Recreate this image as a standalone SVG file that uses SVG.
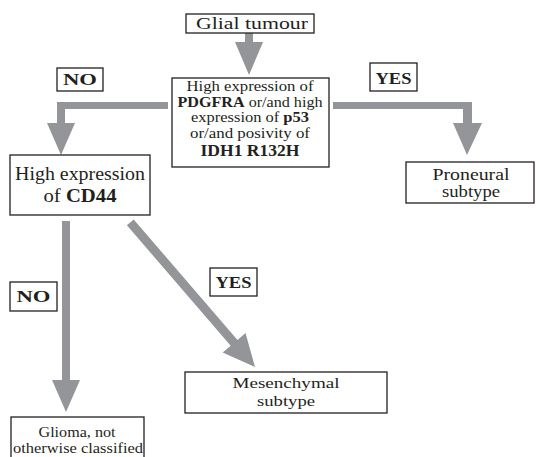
<svg xmlns="http://www.w3.org/2000/svg" width="536" height="457" viewBox="0 0 536 457">
<style>
.box{fill:#fff;stroke:#231f20;stroke-width:1.3}
.t{font-family:'Liberation Serif','Times New Roman','DejaVu Serif',serif;fill:#231f20;text-anchor:middle}
.b{font-weight:bold}
.arr{fill:#939598;stroke:none}
</style>
<rect width="536" height="457" fill="#fff"/>
<g id="connectors">
<polygon class="arr" points="245,33 253,33 253,42 263,42 249,75 235,42 245,42"/>
<polygon class="arr" points="168,102 57,102 57,123 47,123 61,155 75,123 65,123 65,109 168,109"/>
<polygon class="arr" points="333,102 472,102 472,123 482,123 467,155 453,123 463,123 463,109 333,109"/>
<polygon class="arr" points="62,221 70,221 70,380 80,380 66,412 52,380 62,380"/>
<polygon class="arr" points="133.7,219.5 237.5,339.9 245.5,333 255,367 222.7,352.6 230.7,345.7 126.9,225.3"/>
</g>
<g id="glial">
<rect class="box" x="186" y="14" width="128" height="19"/>
<text class="t" x="252" y="28.5" font-size="17.5" textLength="112" lengthAdjust="spacingAndGlyphs">Glial tumour</text>
</g>
<g id="question1">
<rect class="box" x="172" y="78" width="157" height="89"/>
<text class="t" x="250" y="91" font-size="15.5" textLength="127" lengthAdjust="spacingAndGlyphs">High expression of</text>
<text class="t" x="250" y="106.5" font-size="15.5" textLength="145" lengthAdjust="spacingAndGlyphs"><tspan class="b">PDGFRA</tspan> or/and high</text>
<text class="t" x="250" y="122" font-size="15.5" textLength="118" lengthAdjust="spacingAndGlyphs">expression of <tspan class="b">p53</tspan></text>
<text class="t" x="250" y="138" font-size="15.5" textLength="120" lengthAdjust="spacingAndGlyphs">or/and posivity of</text>
<text class="t b" x="250" y="155.5" font-size="16" textLength="99" lengthAdjust="spacingAndGlyphs">IDH1 R132H</text>
</g>
<g id="no1">
<rect class="box" x="57" y="68" width="46" height="23"/>
<text class="t b" x="80" y="84.5" font-size="17" textLength="34" lengthAdjust="spacingAndGlyphs">NO</text>
</g>
<g id="yes1">
<rect class="box" x="370" y="63" width="47" height="28"/>
<text class="t b" x="393.5" y="84" font-size="17" textLength="36" lengthAdjust="spacingAndGlyphs">YES</text>
</g>
<g id="cd44">
<rect class="box" x="10" y="155" width="140" height="60"/>
<text class="t" x="80" y="180" font-size="19" textLength="130" lengthAdjust="spacingAndGlyphs">High expression</text>
<text class="t" x="80" y="202" font-size="19" textLength="73" lengthAdjust="spacingAndGlyphs">of <tspan class="b">CD44</tspan></text>
</g>
<g id="proneural">
<rect class="box" x="406" y="162" width="128" height="41"/>
<text class="t" x="471" y="180" font-size="16" textLength="77" lengthAdjust="spacingAndGlyphs">Proneural</text>
<text class="t" x="471" y="197" font-size="16" textLength="58" lengthAdjust="spacingAndGlyphs">subtype</text>
</g>
<g id="no2">
<rect class="box" x="10" y="282" width="47" height="29"/>
<text class="t b" x="33.5" y="302" font-size="17" textLength="34" lengthAdjust="spacingAndGlyphs">NO</text>
</g>
<g id="yes2">
<rect class="box" x="210" y="268" width="47" height="28"/>
<text class="t b" x="233.5" y="288" font-size="17" textLength="36" lengthAdjust="spacingAndGlyphs">YES</text>
</g>
<g id="mesenchymal">
<rect class="box" x="185" y="372" width="202" height="41"/>
<text class="t" x="286" y="388" font-size="15.5" textLength="107" lengthAdjust="spacingAndGlyphs">Mesenchymal</text>
<text class="t" x="286" y="406" font-size="15.5" textLength="58" lengthAdjust="spacingAndGlyphs">subtype</text>
</g>
<g id="glioma">
<rect class="box" x="11" y="417" width="133" height="50"/>
<text class="t" x="77" y="437" font-size="15" textLength="77" lengthAdjust="spacingAndGlyphs">Glioma, not</text>
<text class="t" x="78" y="453" font-size="15" textLength="130" lengthAdjust="spacingAndGlyphs">otherwise classified</text>
</g>
</svg>
